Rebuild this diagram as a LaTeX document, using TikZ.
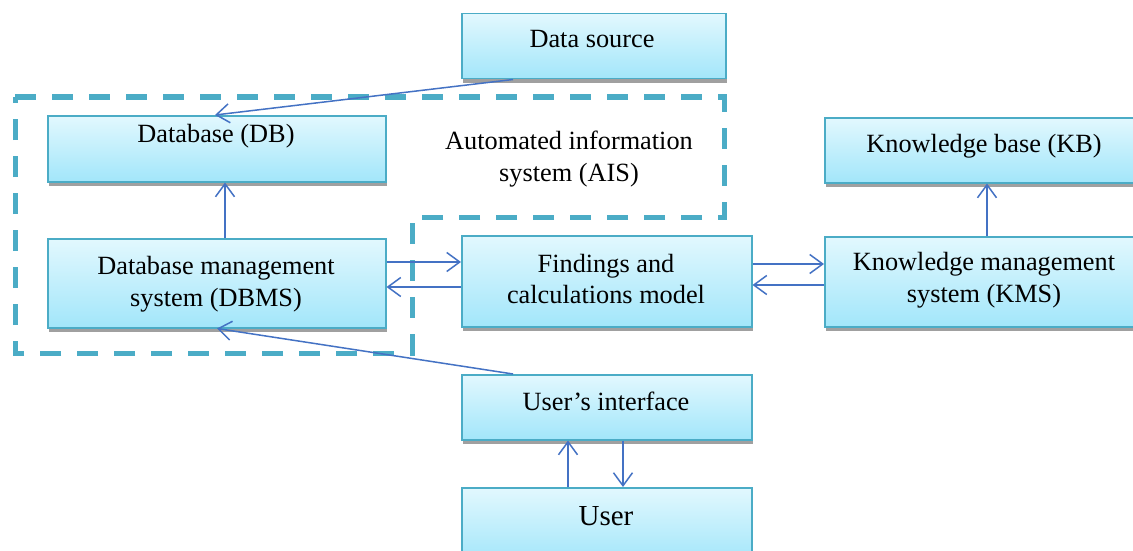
\documentclass[tikz,border=0pt]{standalone}
\usepackage{fontspec}
\setmainfont{Liberation Serif}
\usetikzlibrary{arrows.meta,calc,shadows}
\definecolor{boxline}{HTML}{4BACC6}
\definecolor{boxtop}{HTML}{E2F8FE}
\definecolor{boxbot}{HTML}{A2E6FA}
\definecolor{arrc}{HTML}{4472C4}
\definecolor{shadowc}{HTML}{A0A0A0}
\tikzset{
  box/.style={draw=boxline, line width=1.5pt, top color=boxtop, bottom color=boxbot,
    inner sep=0pt, anchor=north west,
    drop shadow={shadow xshift=1pt, shadow yshift=-4pt, fill=shadowc, opacity=1}},
  txt/.style={font=\fontsize{26.3}{31.5}\selectfont, inner sep=0pt, align=center},
  arr/.style={draw=arrc, line width=1.5pt, -{Straight Barb[length=13pt,width=19pt,line width=1.5pt]}},
  aisline/.style={draw=boxline, line width=5pt, dash pattern=on 21pt off 16pt}
}
\begin{document}
\begin{tikzpicture}[x=1pt,y=-1pt]
\clip (0,0) rectangle (1133,551);
\fill[white] (0,0) rectangle (1133,551);
% AIS boundary
\draw[aisline] (15,97) -- (724,97) -- (724,217) -- (412,217) -- (412,353) -- (15,353) -- cycle;
% boxes
\node[box, minimum width=264, minimum height=65] (ds) at (461,13) {};
\node[box, minimum width=338, minimum height=66] (db) at (47,115) {};
\node[box, minimum width=320, minimum height=65] (kb) at (824,117) {};
\node[box, minimum width=338, minimum height=89] (dbms) at (47,238) {};
\node[box, minimum width=290, minimum height=91] (fc) at (461,235) {};
\node[box, minimum width=320, minimum height=90] (kms) at (824,236) {};
\node[box, minimum width=290, minimum height=65] (ui) at (461,374) {};
\node[box, minimum width=290, minimum height=75] (user) at (461,487) {};
% texts
\node[txt, anchor=base] (dst) at (592,48) {Data source};
\node[txt, anchor=base] (dbt) at (216,142) {Database (DB)};
\node[txt, anchor=base] (kbt) at (984,152) {Knowledge base (KB)};
\node[txt] (aist) at (569,159) {Automated information\\system (AIS)};
\node[txt] (dbmst) at (216,284) {Database management\\system (DBMS)};
\node[txt] (fct) at (606,279) {Findings and\\calculations model};
\node[txt] (kmst) at (984,280) {Knowledge management\\system (KMS)};
\node[txt, anchor=base] (uit) at (606,410) {User’s interface};
\node[txt, anchor=base, font=\fontsize{29}{34}\selectfont] (usert) at (606,525) {User};
% connectors
\draw[arr] ($(ds.south west)+(52,0)$) -- ($(db.north west)+(168,0)$);
\draw[arr] ($(dbms.north west)+(178,0)$) -- ($(db.south west)+(178,0)$);
\draw[arr] ($(dbms.north east)+(0,24)$) -- ($(fc.north west)+(0,27)$);
\draw[arr] ($(fc.north west)+(0,52)$) -- ($(dbms.north east)+(0,49)$);
\draw[arr] ($(fc.north east)+(0,29)$) -- ($(kms.north west)+(0,28)$);
\draw[arr] ($(kms.north west)+(0,49)$) -- ($(fc.north east)+(0,50)$);
\draw[arr] ($(kms.north west)+(163,0)$) -- ($(kb.south west)+(163,0)$);
\draw[arr] ($(ui.north west)+(52,0)$) -- ($(dbms.south west)+(170,0)$);
\draw[arr] ($(user.north west)+(107,0)$) -- ($(ui.south west)+(107,0)$);
\draw[arr] ($(ui.south west)+(162,0)$) -- ($(user.north west)+(162,0)$);
\end{tikzpicture}
\end{document}
